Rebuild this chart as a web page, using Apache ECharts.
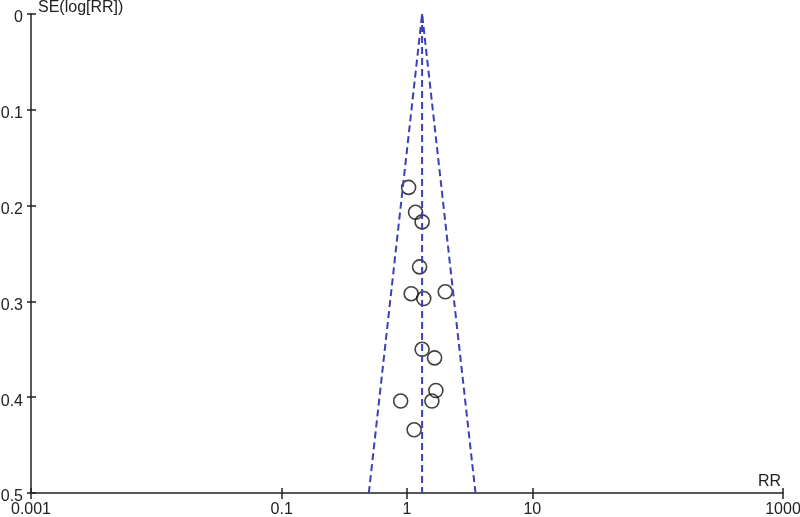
<!DOCTYPE html>
<html>
<head>
<meta charset="utf-8">
<script src="https://cdn.jsdelivr.net/npm/echarts@6/dist/echarts.min.js"></script>
<style>
  html, body { margin: 0; padding: 0; background: #fff; }
  #chart { width: 800px; height: 517px; }
</style>
</head>
<body>
<div id="chart"></div>
<script>
// study estimates
const rr = [1.03, 1.17, 1.32, 1.26, 1.08, 1.36, 2.02, 1.32, 1.66, 1.70, 1.58, 0.89, 1.14]
const se = [0.181, 0.207, 0.217, 0.264, 0.292, 0.297, 0.290, 0.350, 0.359, 0.393, 0.404, 0.404, 0.434]

// pooled estimate and 95% limits at the bottom of the funnel
const pooled = 1.32
const lowerAtBottom = 0.496
const upperAtBottom = 3.52
const seRange = [0, 0.5]

const xTicks = [0.001, 0.1, 1, 10, 1000]

const fontFamily = 'Liberation Sans, Arial, sans-serif'
const axisColor = '#222'
const funnelColor = '#3a40b8'

const chart = echarts.init(document.getElementById('chart'))

const dashed = { color: funnelColor, width: 2, type: [7, 4] }
const tickStyle = { color: axisColor, width: 1.5 }

function fmt(v) {
  return String(parseFloat(Number(v).toPrecision(6)))
}

// base axis settings shared by the labelled axis and the inner-tick copy
function xBase() {
  return {
    type: 'log',
    logBase: 10,
    min: 0.001,
    max: 1000,
    position: 'bottom',
    splitLine: { show: false },
    minorTick: { show: false },
  }
}

function yBase() {
  return {
    type: 'value',
    inverse: true,
    min: seRange[0],
    max: seRange[1],
    interval: 0.1,
    position: 'left',
    splitLine: { show: false },
  }
}

chart.setOption({
  animation: false,
  grid: { left: 31, right: 17, top: 14, bottom: 24, outerBoundsMode: 'none', containLabel: false },
  xAxis: [
    {
      ...xBase(),
      name: 'RR',
      nameLocation: 'end',
      nameGap: -2,
      nameTextStyle: {
        align: 'right',
        verticalAlign: 'bottom',
        color: axisColor,
        fontSize: 16,
        fontFamily,
        padding: [0, 0, 3, 0],
      },
      axisLine: { onZero: false, lineStyle: { color: axisColor, width: 1.5 } },
      axisTick: { show: true, length: 6, customValues: xTicks, lineStyle: tickStyle },
      axisLabel: {
        customValues: xTicks,
        color: axisColor,
        fontSize: 16,
        fontFamily,
        margin: 9,
        formatter: fmt,
      },
    },
    {
      ...xBase(),
      axisLine: { show: false, onZero: false },
      axisTick: { show: true, inside: true, length: 5, customValues: xTicks, lineStyle: tickStyle },
      axisLabel: { show: false },
    },
  ],
  yAxis: [
    {
      ...yBase(),
      name: 'SE(log[RR])',
      nameLocation: 'start',
      nameGap: 6,
      nameTextStyle: {
        align: 'left',
        verticalAlign: 'middle',
        color: axisColor,
        fontSize: 16,
        fontFamily,
        padding: [0, 0, 0, 7],
      },
      axisLine: { show: true, onZero: false, lineStyle: { color: axisColor, width: 1.5 } },
      axisTick: { show: true, length: 4, lineStyle: tickStyle },
      axisLabel: {
        color: axisColor,
        fontSize: 16,
        fontFamily,
        margin: 8,
        verticalAlign: 'top',
        lineHeight: 8,
        formatter: fmt,
      },
    },
    {
      ...yBase(),
      axisLine: { show: false, onZero: false },
      axisTick: { show: true, inside: true, length: 5, lineStyle: tickStyle },
      axisLabel: { show: false },
    },
  ],
  series: [
    {
      type: 'line',
      data: [[lowerAtBottom, seRange[1]], [pooled, seRange[0]], [upperAtBottom, seRange[1]]],
      symbol: 'none',
      lineStyle: dashed,
      silent: true,
    },
    {
      type: 'line',
      data: [[pooled, seRange[0]], [pooled, seRange[1]]],
      symbol: 'none',
      lineStyle: dashed,
      silent: true,
    },
    {
      type: 'scatter',
      data: rr.map((v, i) => [v, se[i]]),
      symbol: 'circle',
      symbolSize: 14,
      itemStyle: { color: 'rgba(255,255,255,0)', borderColor: '#111', borderWidth: 1.6 },
    },
  ],
})
</script>
</body>
</html>
